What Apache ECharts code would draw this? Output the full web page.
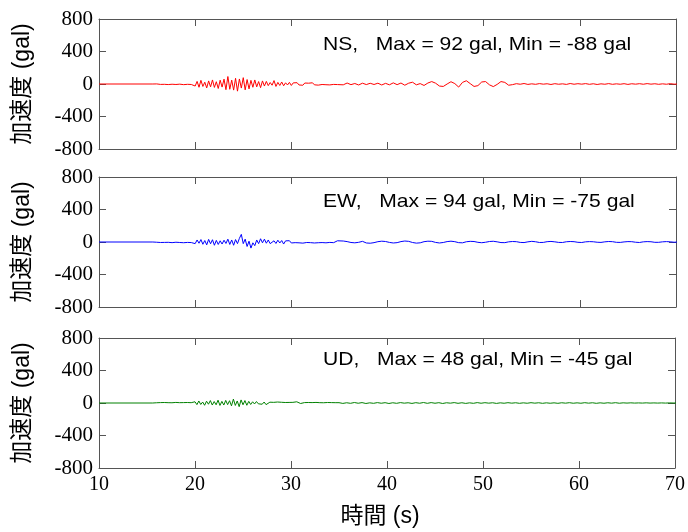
<!DOCTYPE html>
<html>
<head>
<meta charset="utf-8">
<script src="https://cdn.jsdelivr.net/npm/echarts@6/dist/echarts.min.js"></script>
<style>html,body{margin:0;padding:0;background:#fff}#c{width:688px;height:532px}</style>
</head>
<body>
<div id="c"></div>
<script>
// time sampling of the hand-read traces
const earlyStart = 15.6, earlyStep = 0.2;   // 15.6 .. 34.8 s
const lateStart = 35.0, lateStep = 0.4;     // 35.0 .. 70.2 s
const xTicks = [10, 20, 30, 40, 50, 60, 70];
const yTicks = [-800, -400, 0, 400, 800];

const components = ['NS', 'EW', 'UD'];
const maxVals = [92, 94, 48];
const minVals = [-88, -75, -45];

const nsEarly = [0,0,1,
  3,-5,6,-4,2,-7,5,-3,8,-6,4,-2,7,-8,5,-4,9,-6,3,
  -25,32,-40,45,-30,22,-48,38,-35,50,-42,28,-55,47,-38,
  60,-70,92,-65,48,-75,70,-88,62,-50,78,-72,55,-60,45,
  -40,50,-35,30,-45,38,-25,32,-20,18,
  -15,42,-30,20,-18,25,-22,15,-12,20,
  -18,14,-10,16,-12,10,-15,12,-8,10,
  -12,15,-10,8,-14,10,-6,12,-9,7,-11,8,-5,9,-7];
const nsLate = [8,-10,12,-8,6,-12,10,-7,9,-6,
  10,-12,8,-10,14,-8,12,-15,10,
  22,-10,5,-18,12,
  30,10,-25,-30,0,28,5,-38,20,40,5,-30,-20,25,30,-10,-32,-5,30,20,-15,
  -8,4,-3,6,-5,2,-4,5,-2,3,-6,4,-3,2,-5,6,-3,4,-2,5,-4,3,-6,2,-3,5,-4,2,-3,4,-5,3,-2,4,-3,5,-2,3,-4,2,-3,4,-2,0];

const ewEarly = [0,2,-3,
  4,-6,3,-5,7,-4,6,-8,5,-3,7,-6,4,-9,6,-5,10,-7,8,
  -20,25,-15,30,-28,18,-35,32,-22,28,-40,20,-30,15,-25,
  22,-18,35,-30,25,-40,30,-20,45,94,-20,35,-55,10,-75,
  -10,-45,25,-20,40,-10,35,-15,25,-20,
  -20,15,-18,22,-12,18,-25,14,-10,16,
  -12,10,-8,12,-10,8,-14,9,-6,10,
  -8,10,-12,6,-9,11,-7,8,-10,6,-5,9,-8,12,15];
const ewLate = [18,12,5,-6,-10,-4,8,-12,-15,-8,
  4,10,6,-5,-12,-8,5,12,8,
  -6,-14,-10,4,10,
  8,-5,-12,-6,5,10,4,-8,-10,3,8,6,-4,-9,-3,6,9,2,-7,-8,2,
  6,4,-5,-7,2,8,3,-6,-5,4,7,2,-5,-6,3,6,4,-4,-6,2,5,3,-3,-5,2,6,4,-4,-5,1,5,4,-3,-6,2,5,3,-4,-4,2,5,2,-3,0];

const udEarly = [0,-2,3,
  -4,5,-3,6,-5,4,-6,3,-4,7,-5,4,-6,5,-3,6,-7,4,-5,
  15,-20,25,-18,12,-28,22,-15,30,-25,18,-22,35,-30,20,
  -25,32,-20,28,-35,48,-30,25,-45,38,-22,30,-28,20,-18,
  15,-12,18,-10,8,-15,12,-20,-15,10,
  14,8,-10,12,-6,9,-8,6,-10,7,
  -5,8,12,15,6,-6,-8,5,-7,6,
  -6,5,-4,7,-5,4,-6,3,-5,6,-4,5,-3,4,-5];
const udLate = [4,-5,3,-4,6,-3,5,-6,2,-4,
  5,-3,4,-6,3,-4,5,-2,3,
  -5,4,-3,6,-4,
  5,-3,4,-6,3,-2,5,-4,3,-5,2,-4,5,-3,4,-2,3,-5,2,-3,4,
  -2,3,-4,2,-3,4,-2,3,-4,2,-3,2,-4,3,-2,4,-3,2,-3,4,-2,3,-4,2,-3,3,-2,4,-3,2,-1,2,-1,1,-1,2,-1,1,-1,1,-1,1,0,0];

const colors = ['#ff0000', '#0000ff', '#008000'];

function build(early, late) {
  const pts = [[10, 0]];
  early.forEach((v, i) => pts.push([+(earlyStart + i * earlyStep).toFixed(2), v]));
  late.forEach((v, i) => pts.push([+(lateStart + i * lateStep).toFixed(2), v]));
  return pts;
}
const traces = [build(nsEarly, nsLate), build(ewEarly, ewLate), build(udEarly, udLate)];

const gridTops = [19, 177, 338];
const plotH = 130, plotL = 99, plotW = 577;
const axisColor = '#555';
const serif = '"Liberation Serif", "Times New Roman", serif';
const sans = '"Liberation Sans", Arial, "Noto Sans CJK JP", sans-serif';

const grid = gridTops.map(t => ({left: plotL, top: t, width: plotW, height: plotH}));
const xAxis = [], yAxis = [];
for (let k = 0; k < 2; k++) {
  for (let i = 0; i < 3; i++) {
    const last = (i === 2 && k === 0);
    xAxis.push({
      type: 'value', gridIndex: i, min: xTicks[0], max: xTicks[xTicks.length - 1], interval: 10,
      position: k === 0 ? 'bottom' : 'top',
      axisLine: {show: true, onZero: false, lineStyle: {color: axisColor, width: 1}},
      axisTick: {show: true, inside: true, length: 7, lineStyle: {color: axisColor}},
      axisLabel: {show: last, color: '#000', fontFamily: serif, fontSize: 20, margin: 7},
      splitLine: {show: false},
      name: last ? '時間 (s)' : '', nameLocation: 'middle', nameGap: 37,
      nameTextStyle: {color: '#000', fontFamily: sans, fontSize: 23, padding: [0, 14, 0, 0]}
    });
    yAxis.push({
      type: 'value', gridIndex: i, min: yTicks[0], max: yTicks[yTicks.length - 1], interval: 400,
      position: k === 0 ? 'left' : 'right',
      axisLine: {show: true, onZero: false, lineStyle: {color: axisColor, width: 1}},
      axisTick: {show: true, inside: true, length: 7, lineStyle: {color: axisColor}},
      axisLabel: {show: k === 0, color: '#000', fontFamily: serif, fontSize: 21, margin: 6},
      splitLine: {show: false},
      name: k === 0 ? '加速度 (gal)' : '', nameLocation: 'middle', nameGap: 65, nameRotate: 90,
      nameTextStyle: {color: '#000', fontFamily: sans, fontSize: 23}
    });
  }
}

const series = traces.map((d, i) => ({
  type: 'line', xAxisIndex: i, yAxisIndex: i, data: d, showSymbol: false,
  lineStyle: {color: colors[i], width: 1}, itemStyle: {color: colors[i]},
  animation: false, silent: true
}));

const textCentre = [26, 25, 22];
const graphic = components.map((c, i) => ({
  type: 'text', x: 323, y: gridTops[i] + textCentre[i], scaleX: 1.14,
  style: {text: c + ',   Max = ' + maxVals[i] + ' gal, Min = ' + minVals[i] + ' gal',
          font: '18.5px ' + sans, fill: '#000', verticalAlign: 'middle'}
}));

const chart = echarts.init(document.getElementById('c'), null, {renderer: 'canvas'});
chart.setOption({animation: false, grid, xAxis, yAxis, series, graphic});
</script>
</body>
</html>
